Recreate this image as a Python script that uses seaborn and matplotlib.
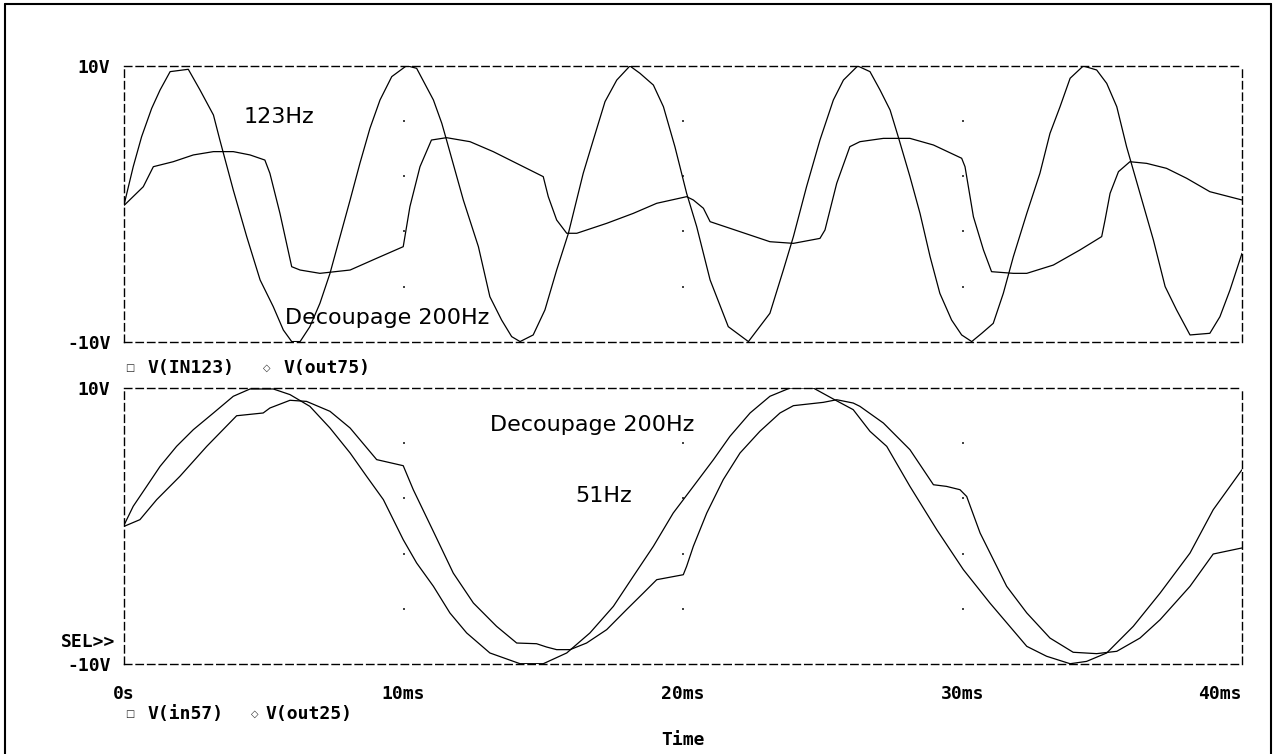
import matplotlib
matplotlib.use("Agg")
import matplotlib.pyplot as plt
import seaborn as sns
from matplotlib.lines import Line2D

# --- data (time in ms, volts) ---
in123_t = [0.01, 0.33, 0.63, 0.99, 1.29, 1.65, 2.30, 2.72, 3.20, 3.43, 3.91, 4.39, 4.87, 5.34, 5.70,
           6.00, 6.30, 6.65, 7.01, 7.37, 7.73, 8.09, 8.44, 8.80, 9.16, 9.58, 10.11, 10.47, 11.07, 11.37,
           11.54, 12.14, 12.68, 13.09, 13.51, 13.87, 14.17, 14.64, 15.06, 15.48, 15.90, 16.43, 16.79,
           17.21, 17.63, 18.10, 18.46, 18.94, 19.30, 19.71, 20.13, 20.49, 20.97, 21.62, 22.34, 23.11,
           23.59, 23.95, 24.42, 24.90, 25.38, 25.74, 26.25, 26.69, 27.05, 27.41, 27.70, 28.12, 28.48,
           28.84, 29.19, 29.61, 29.97, 30.33, 30.69, 31.10, 31.46, 31.82, 32.30, 32.77, 33.13, 33.49,
           33.85, 34.32, 34.80, 35.16, 35.52, 35.87, 36.35, 36.83, 37.25, 37.66, 38.14, 38.85, 39.21,
           39.57, 40.0]
in123_v = [0.0, 2.69, 4.86, 6.91, 8.24, 9.57, 9.74, 8.24, 6.43, 4.62, 1.0, -2.37, -5.51, -7.44, -9.13,
           -9.97, -9.97, -8.89, -7.20, -5.03, -2.37, 0.28, 2.93, 5.47, 7.52, 9.21, 10.0, 9.81, 7.52, 5.83,
           4.62, 0.28, -3.10, -6.72, -8.41, -9.61, -9.97, -9.49, -7.68, -4.79, -2.13, 2.21, 4.62,
           7.40, 8.96, 9.98, 9.45, 8.60, 7.03, 4.14, 0.76, -1.65, -5.51, -8.89, -9.97, -7.92,
           -4.79, -2.37, 1.24, 4.62, 7.52, 8.96, 9.98, 9.57, 8.24, 6.79, 4.86, 1.97, -0.69,
           -3.82, -6.48, -8.41, -9.49, -9.97, -9.37, -8.65, -6.48, -3.82, -0.69, 2.21, 5.10, 7.03,
           9.09, 9.98, 9.69, 8.72, 7.03, 4.14, 0.76, -2.62, -5.99, -7.68, -9.49, -9.37, -8.17,
           -6.24, -3.58]

out75_t = [0.01, 0.69, 1.05, 1.76, 2.48, 3.20, 3.91, 4.51, 5.04, 5.22, 5.58, 6.00, 6.30, 7.01, 8.09,
           9.04, 9.99, 10.23, 10.59, 11.00, 11.54, 12.38, 13.21, 14.05, 15.00, 15.18, 15.48, 15.84,
           16.20, 17.27, 18.22, 19.06, 20.13, 20.37, 20.73, 20.97, 21.68, 23.11, 23.95, 24.90, 25.08,
           25.50, 25.97, 26.33, 27.17, 28.12, 28.96, 29.97, 30.09, 30.39, 30.75, 31.04, 31.82, 32.30,
           33.25, 34.20, 34.98, 35.10, 35.28, 35.58, 35.99, 36.59, 37.30, 38.02, 38.85, 40.0]
out75_v = [-0.1, 1.24, 2.69, 3.05, 3.54, 3.78, 3.78, 3.54, 3.17, 2.21, -0.69, -4.55, -4.79, -5.03, -4.79,
           -3.94, -3.10, -0.20, 2.69, 4.62, 4.79, 4.50, 3.78, 2.93, 1.97, 0.52, -1.17, -2.13,
           -2.13, -1.41, -0.69, 0.04, 0.52, 0.28, -0.32, -1.29, -1.77, -2.74, -2.86, -2.50, -1.89,
           1.49, 4.14, 4.50, 4.74, 4.74, 4.26, 3.30, 2.69, -0.93, -3.34, -4.91, -5.03, -5.03,
           -4.43, -3.34, -2.37, -1.17, 0.76, 2.33, 3.05, 2.93, 2.57, 1.85, 0.88, 0.28]

in57_t = [0.01, 0.33, 0.81, 1.29, 1.88, 2.48, 3.20, 3.91, 4.51, 5.34, 5.94, 6.65, 7.37, 8.09, 8.68,
          9.28, 9.99, 10.47, 11.07, 11.66, 12.26, 13.09, 14.17, 15.00, 15.84, 16.67, 17.51, 18.22,
          18.94, 19.65, 20.37, 21.09, 21.68, 22.40, 23.11, 23.83, 24.66, 25.38, 26.09, 26.69, 27.29,
          28.12, 29.08, 30.03, 30.98, 32.30, 33.01, 33.85, 34.44, 35.16, 36.11, 37.07, 38.14, 38.97,
          40.0]
in57_v = [0.1, 1.43, 2.87, 4.32, 5.77, 6.98, 8.19, 9.40, 9.93, 9.93, 9.52, 8.67, 7.10, 5.29, 3.60,
          1.91, -0.99, -2.68, -4.37, -6.30, -7.75, -9.20, -9.98, -9.98, -9.20, -7.75, -5.82, -3.65,
          -1.47, 0.94, 2.87, 4.81, 6.50, 8.19, 9.40, 10.0, 10.0, 9.20, 8.43, 6.86, 5.77,
          2.87, -0.27, -3.16, -5.58, -8.72, -9.44, -9.98, -9.81, -9.20, -7.27, -4.86, -1.96, 1.18,
          4.08]

out25_t = [0.01, 0.57, 1.17, 2.00, 2.96, 4.03, 4.98, 5.22, 5.94, 6.53, 7.37, 8.09, 9.04, 9.99, 10.35,
           11.07, 11.78, 12.50, 13.33, 14.05, 14.76, 15.12, 15.48, 15.96, 16.55, 17.27, 17.98, 18.58,
           19.06, 20.01, 20.13, 20.37, 20.85, 21.44, 22.04, 22.75, 23.47, 23.95, 25.02, 25.50, 26.09,
           26.33, 27.17, 28.12, 28.96, 29.43, 29.91, 30.15, 30.63, 31.58, 32.30, 33.13, 33.96, 34.80,
           35.52, 36.35, 37.07, 38.14, 38.97, 40.0]
out25_v = [-0.02, 0.46, 1.91, 3.60, 5.77, 7.99, 8.19, 8.55, 9.11, 9.03, 8.31, 7.10, 4.81, 4.37, 2.63,
           -0.4, -3.41, -5.58, -7.27, -8.48, -8.53, -8.77, -8.96, -8.96, -8.48, -7.51, -6.06, -4.86,
           -3.89, -3.53, -2.92, -1.47, 0.94, 3.36, 5.29, 6.86, 8.19, 8.72, 8.96, 9.15, 8.91,
           8.67, 7.46, 5.53, 2.99, 2.87, 2.63, 2.14, -0.51, -4.37, -6.30, -8.12, -9.15, -9.25,
           -9.08, -8.12, -6.79, -4.37, -2.03, -1.59]

x_ticks = [0, 10, 20, 30, 40]
x_labels = ["0s", "10ms", "20ms", "30ms", "40ms"]
y_ticks = [-10, 10]
y_labels = ["-10V", "10V"]
grid_t = [10, 20, 30]
grid_v = [6, 2, -2, -6]

sns.set_theme(style="white")
plt.rcParams["font.family"] = ["DejaVu Sans"]
plt.rcParams["lines.scale_dashes"] = False

W, H = 1274, 754
fig = plt.figure(figsize=(W / 100, H / 100), dpi=100)
fig.patch.set_facecolor("white")


def fx(p):
    return p / W


def fy(p):
    return 1 - p / H


mono = dict(family="DejaVu Sans Mono", weight="bold", size=13, color="black")
ax1 = fig.add_axes([fx(124), fy(342), fx(1242) - fx(124), fy(65.7) - fy(342)])
ax2 = fig.add_axes([fx(124), fy(664), fx(1242) - fx(124), fy(388) - fy(664)])

for ax in (ax1, ax2):
    ax.set_facecolor("white")
    ax.set_xlim(0, 40)
    ax.set_ylim(-10, 10)
    for sp in ax.spines.values():
        sp.set_linestyle((0, (5.3, 3.0)))
        sp.set_linewidth(1.0)
        sp.set_color("black")
    ax.set_yticks(y_ticks)
    ax.set_yticklabels(y_labels, fontdict=mono)
    ax.tick_params(axis="y", direction="out", length=4.3, width=0.9, pad=5.5, colors="black")
    # PSpice-style dots at the grid crossings
    gx = [t for t in grid_t for _ in grid_v]
    gy = [v for _ in grid_t for v in grid_v]
    ax.scatter(gx, gy, s=2, color="#444444", marker="s", linewidths=0)

ax1.set_xticks([])

sns.lineplot(x=in123_t, y=in123_v, ax=ax1, color="black", lw=0.9, sort=False, estimator=None)
sns.lineplot(x=out75_t, y=out75_v, ax=ax1, color="black", lw=0.9, sort=False, estimator=None)
sns.lineplot(x=in57_t, y=in57_v, ax=ax2, color="black", lw=0.9, sort=False, estimator=None)
sns.lineplot(x=out25_t, y=out25_v, ax=ax2, color="black", lw=0.9, sort=False, estimator=None)

ax2.set_xticks(x_ticks)
ax2.set_xticklabels(x_labels, fontdict=mono)
ax2.tick_params(axis="x", direction="out", length=4.3, width=0.9, pad=11, colors="black")
ax2.get_xticklabels()[-1].set_ha("right")

# annotations
txt = dict(family="DejaVu Sans", size=16, color="black", va="baseline", ha="left")
ax1.text(4.27, 5.83, "123Hz", **txt)
ax1.text(5.76, -8.70, "Decoupage 200Hz", **txt)
ax2.text(13.09, 6.91, "Decoupage 200Hz", **txt)
ax2.text(16.14, 1.76, "51Hz", **txt)

# legends under each plot
fig.text(fx(130), fy(368), "\u25a1", family="DejaVu Sans", size=7, ha="center", va="center")
fig.text(fx(148), fy(368), "V(IN123)", ha="left", va="center", **mono)
fig.text(fx(267), fy(368), "\u25c7", family="DejaVu Sans", size=7, ha="center", va="center")
fig.text(fx(283), fy(368), "V(out75)", ha="left", va="center", **mono)

fig.text(fx(130), fy(714), "\u25a1", family="DejaVu Sans", size=7, ha="center", va="center")
fig.text(fx(148), fy(714), "V(in57)", ha="left", va="center", **mono)
fig.text(fx(255), fy(714), "\u25c7", family="DejaVu Sans", size=7, ha="center", va="center")
fig.text(fx(266), fy(714), "V(out25)", ha="left", va="center", **mono)

fig.text(fx(115), fy(642), "SEL>>", ha="right", va="center", **mono)
fig.text(fx(683), fy(740), "Time", ha="center", va="center", **mono)

# outer frame
for xs, ys in [([5, 5], [4, 760]), ([5, 1271], [4, 4]), ([1271, 1271], [4, 760])]:
    fig.add_artist(Line2D([fx(x) for x in xs], [fy(y) for y in ys], color="black", lw=1.5,
                          transform=fig.transFigure))

fig.savefig("out.png", dpi=100)
